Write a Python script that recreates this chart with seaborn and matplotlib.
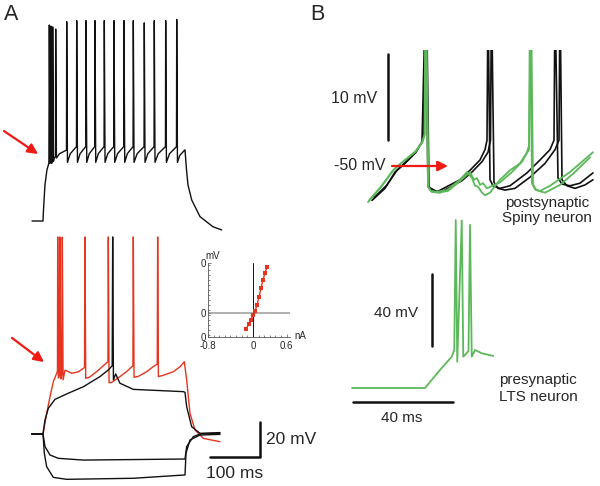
import numpy as np
import pandas as pd
import seaborn as sns
import matplotlib.pyplot as plt
from matplotlib.ticker import MultipleLocator

# ---- panel A, upper trace (ms / mV) ----
A_ON_T = [-22.4, 0, 1, 4, 8, 12]
A_ON_V = [-80, -80, -73.7, -59.4, -50.9, -46.9]
A_SPK_T = [12.9, 16.3, 19.8, 25.9, 48.4, 68.8, 87.8, 106.1, 125.1, 144.9,
           165.3, 184.3, 206.7, 227.1, 250.4, 272.9]
A_SPK_V = [32, 31.4, 30.9, 29.7, 33.9, 34.5, 34.5, 34.5, 34.5, 34.5,
           34.5, 34.5, 33.2, 34.5, 34.5, 35.2]
A_TROUGH = [-47, -47, -46, -44, -46.5, -46.5, -46.5, -46.5, -46.5, -46.5,
            -46.5, -46.5, -46.5, -46.5, -46.5, -46.5]
A_PRE = [-44, -44, -43, -39.5, -37.5, -37.5, -37.5, -37.5, -37.5, -37.5,
         -37.5, -37.5, -37.5, -37.5, -37.5, -39.4]
A_OFF_T = [289.8, 292.9, 295.9, 303.5, 320.4, 346.9, 364.7]
A_OFF_V = [-39.4, -50.9, -59.4, -68, -77.5, -83.3, -85.1]

# ---- panel A, lower traces ----
RED_T = [-23, 0, 7.5, 14.3, 21.1, 27.9, 29.5, 30, 31.5, 33.5, 34.7, 36.2, 38.3,
         39.4, 41, 45, 58.5, 72, 84.8, 85.7, 87.2, 95, 109.5, 125, 132.5, 133.3,
         134.8, 140, 157.1, 172, 183.5, 184.3, 185.8, 195, 211.6, 225, 233.2, 234,
         235.5, 245, 266, 280, 288.4, 293.2, 300, 310.2, 327.2, 361.2]
RED_V = [-80, -80, -68.2, -58.7, -50.1, -45.3, -44, 32.6, -48, -46, 32.6, -48.5, -46,
         32.4, -49, -43.5, -45.3, -44.5, -42, 32.6, -48.2, -47.5, -44.4, -40.5, -38.7, 32.6,
         -50.7, -50.5, -47.2, -44, -41, 32.6, -47.6, -47, -44.4, -41.5, -40, 32.6,
         -47.2, -46.5, -44.4, -41.5, -38.7, -49.1, -68.2, -77.7, -82.5, -84.4]
DEP_T = [-23, 0, 4.1, 10.9, 24.5, 48.3, 82.3, 116.3, 133.3, 141.2, 142.2, 143.7,
         148.3, 157.1, 184.4, 286.4, 289.8, 293.2, 303.4, 320.4, 361.2]
DEP_V = [-80, -80, -72, -65.3, -60.2, -57.1, -53, -47.2, -43.4, -41, 32.6, -49.1,
         -45.7, -51, -54.5, -55.8, -56.2, -64.4, -75.8, -79.6, -79.2]
HYP1_T = [-23, 0, 4.1, 14.3, 31.3, 82.3, 289.8, 293.2, 306.8, 320.4, 361.2]
HYP1_V = [-80, -80, -87.2, -92, -93.9, -94.9, -94.3, -87.2, -81.5, -80, -79.6]
HYP2_T = [-23, 0, 2.7, 7.5, 21.1, 48.3, 184.4, 289.8, 291.8, 300, 320.4, 361.2]
HYP2_V = [-80, -80, -91, -98.7, -104.8, -105.9, -105.3, -103.4, -91, -83.4, -80.6, -80.2]

# ---- inset I-V ----
IV_I = [-0.124, -0.071, -0.036, 0.0, 0.036, 0.071, 0.107, 0.142, 0.178, 0.213, 0.249]
IV_V = [-83.5, -79.5, -76.2, -72.2, -68.9, -64.1, -57.6, -50.3, -43.8, -38.1, -33.2]

# ---- panel B, postsynaptic spiny neuron (green: with LTS input) ----
G1_T = [0.4, 5.2, 10.4, 14.4, 19.2, 22, 23, 23.4, 24.4, 25.6, 28, 32, 37.2, 40,
        42, 43.2, 44.4, 46, 47.2, 49.2, 53.2, 57.2, 61.2, 64, 64.8, 65.2, 66, 67.2,
        69.2, 73.2, 81.2, 90.4]
G1_V = [-54.2, -52.6, -50.5, -49.5, -48.4, -47.3, -46.4, -30, -52.4, -52.9, -53,
        -52.8, -51.6, -50.7, -51.4, -52.3, -52.4, -53.1, -53.4, -53.1, -51.6, -50.5,
        -49.7, -48.4, -47.6, -30, -52, -52.7, -52.9, -52.3, -50.7, -48.4]
G2_T = [0.8, 5.6, 10.8, 14.8, 19.4, 22.2, 23.1, 23.6, 24.6, 25.8, 28.4, 32.4, 37.4,
        41.2, 42.8, 44, 45.2, 46.4, 48, 50, 53.2, 58, 62, 64.8, 65.6, 66.4, 67.6,
        71.2, 77.2, 83.2, 89.2]
G2_V = [-54, -52.4, -50.4, -49.4, -48.3, -47.2, -46.3, -30, -52.5, -53, -53.1,
        -52.9, -51.7, -50.7, -51.6, -51.4, -52.2, -52, -52.6, -52.3, -51.9, -50.7,
        -49.5, -48.1, -30, -52.1, -52.8, -53.1, -52.2, -50.7, -49]
# black: without LTS input
K1_T = [2, 7.2, 11.2, 15.2, 19.2, 22, 23.4, 24.4, 28, 37.2, 41.2, 45.2, 47.2, 48,
        48.4, 49.2, 50.4, 53.2, 57.2, 64, 69.2, 73.2, 74.8, 75.2, 76.4, 78, 81.2,
        85.2, 90.4]
K1_V = [-54, -52.6, -50.7, -49.7, -48.5, -47.2, -30, -52.4, -53, -51.6, -50.5,
        -49.3, -48.1, -47, -30, -51.6, -52.3, -52.6, -52.3, -50.8, -49.3, -48.1,
        -47, -30, -51.4, -52.1, -52.3, -52, -50.8]
K2_T = [2.8, 8, 12, 16, 19.6, 22.4, 23.8, 24.8, 29.2, 38, 42, 46, 48.4, 49.4, 49.8,
        50.8, 52.4, 55.2, 59.2, 65.2, 71.2, 75.2, 76.8, 77.2, 78, 80, 83.2, 87.2, 90.4]
K2_V = [-53.7, -52.2, -50.5, -49.4, -48.4, -47, -30, -52.6, -53.1, -51.7, -50.7,
        -49.5, -48.4, -47, -30, -51.9, -52.6, -52.8, -52.6, -51.3, -49.7, -48.1,
        -47, -30, -51.6, -52.3, -52.6, -52.2, -51.6]

# ---- panel B, presynaptic LTS neuron ----
LTS_T = [0, 29.2, 35.2, 39.9, 40.9, 41.5, 42.1, 43.9, 44.5, 46.6, 47.2, 47.9, 49.2,
         51.9, 56.5]
LTS_V = [-70, -70, -60, -52.6, -48.9, 23.3, -55.4, 23, -52.6, -49.5, 20.6, -52.6,
         -48.9, -50.7, -52.2]

BLACK = '#111111'
RED = '#e5341f'
GREEN = '#5cb85a'
ARROW = '#f01a14'

W, H = 600, 486


def spike_train(t0, v0, spk_t, spk_v, trough, pre, t1, v1):
    t, v = list(t0), list(v0)
    nxt = list(spk_t[1:]) + [t1[0]]
    for ts, pk, tr, pr, tn in zip(spk_t, spk_v, trough, pre, nxt):
        gap = tn - ts - 1.5
        t += [ts, ts + 1.5, ts + 1.5 + 0.3 * gap, tn - 0.5]
        v += [pk, tr, tr + 0.55 * (pr - tr), pr]
    return t + list(t1), v + list(v1)


def panel(fig, x0, y0, x1, y1, px0, py0, t0, v0, px_t, px_v):
    ax = fig.add_axes([x0 / W, 1 - y1 / H, (x1 - x0) / W, (y1 - y0) / H])
    ax.set_xlim(t0 + (x0 - px0) / px_t, t0 + (x1 - px0) / px_t)
    ax.set_ylim(v0 - (y1 - py0) / px_v, v0 + (py0 - y0) / px_v)
    ax.set_axis_off()
    return ax


def trace(ax, t, v, color, lw=1.0):
    sns.lineplot(x=t, y=v, ax=ax, color=color, lw=lw, sort=False, estimator=None)


def arrow(ax, tail, tip):
    ax.annotate('', xy=tip, xytext=tail, annotation_clip=False,
                arrowprops=dict(arrowstyle='-|>', color=ARROW, lw=1.6,
                                mutation_scale=15, shrinkA=0, shrinkB=0))


sns.set_theme(style='white')
plt.rcParams['font.family'] = ['Liberation Sans', 'DejaVu Sans']

fig = plt.figure(figsize=(6, 4.86), dpi=100)

# panel A top
ax = panel(fig, 0, 5, 240, 242, 43, 221, 0, -80, 0.49, 1.75)
t, v = spike_train(A_ON_T, A_ON_V, A_SPK_T, A_SPK_V, A_TROUGH, A_PRE, A_OFF_T, A_OFF_V)
trace(ax, t, v, BLACK)
arrow(ax, (-79.6, -28.6), (-10.2, -41.7))

# panel A bottom
ax = panel(fig, 0, 228, 300, 486, 43, 434, 0, -80, 0.49, 1.75)
trace(ax, RED_T, RED_V, RED)
trace(ax, DEP_T, DEP_V, BLACK)
trace(ax, HYP1_T, HYP1_V, BLACK)
trace(ax, HYP2_T, HYP2_V, BLACK)
arrow(ax, (-63.3, -25.1), (2, -38.9))
ax.plot([340.8, 442.9, 442.9], [-93, -93, -73], color=BLACK, lw=1.8, clip_on=False)
ax.text(455, -83.4, '20 mV', fontsize=12.5, ha='left', va='center')
ax.text(391.8, -102.6, '100 ms', fontsize=12.5, ha='center', va='center')

# inset I-V
ins = fig.add_axes([208 / W, 1 - 337 / H, 82 / W, 74 / H])
ins.set_facecolor('none')
ins.set_xlim(-0.8, 0.658)
ins.set_ylim(-90, -30)
ins.axhline(-70.5, color='#9a9a9a', lw=1.1, zorder=1)
ins.axvline(0, color=BLACK, lw=0.7, zorder=1)
sns.lineplot(x=IV_I, y=IV_V, ax=ins, color=RED, lw=1.0, marker='s', markersize=2.2,
             markeredgewidth=0, sort=False, estimator=None, zorder=3)
for s in ['top', 'right']:
    ins.spines[s].set_visible(False)
for s in ['left', 'bottom']:
    ins.spines[s].set_color('#555555')
    ins.spines[s].set_linewidth(0.6)
ins.set_xticks([-0.8, 0, 0.6])
ins.set_xticklabels(['-0.8', '0', '0.6'])
ins.set_yticks([-90, -70.5, -30])
ins.set_yticklabels(['0', '0', '0'])
ins.xaxis.set_minor_locator(MultipleLocator(0.1))
ins.yaxis.set_minor_locator(MultipleLocator(4))
ins.tick_params(which='both', direction='in', labelsize=7, color='#555555',
                left=True, bottom=True, width=0.5)
ins.tick_params(axis='x', which='both', pad=3)
ins.tick_params(axis='y', which='both', pad=1.5)
ins.tick_params(which='major', length=2.5)
ins.tick_params(which='minor', length=1.5)
ins.set_xlabel('')
ins.set_ylabel('')
fig.text(213 / W, 1 - 256 / H, 'mV', fontsize=7, ha='center', va='center')
fig.text(300 / W, 1 - 336 / H, 'nA', fontsize=7, ha='center', va='center')

# panel B top
ax = panel(fig, 340, 50, 600, 240, 367, 166, 0, -50, 2.5, 8.6)
trace(ax, K1_T, K1_V, BLACK, 1.2)
trace(ax, K2_T, K2_V, BLACK, 1.2)
trace(ax, G1_T, G1_V, GREEN, 1.3)
trace(ax, G2_T, G2_V, GREEN, 1.3)
ax.plot([8.4, 8.4], [-47, -37], color=BLACK, lw=1.8)
ax.text(4, -42.1, '10 mV', fontsize=11.5, ha='right', va='center')
ax.text(7.6, -50, '-50 mV', fontsize=11.5, ha='right', va='center')
arrow(ax, (10, -50), (32.4, -50))
ax.text(72, -54.3, 'postsynaptic', fontsize=11, ha='center', va='center')
ax.text(72, -56.1, 'Spiny neuron', fontsize=11, ha='center', va='center')

# panel B bottom
ax = panel(fig, 340, 215, 600, 440, 352, 388, 0, -70, 2.5, 1.8)
trace(ax, LTS_T, LTS_V, GREEN, 1.3)
ax.plot([32, 32], [-46.7, -6.7], color=BLACK, lw=1.8)
ax.plot([0.4, 40.4], [-77.8, -77.8], color=BLACK, lw=1.8)
ax.text(26.4, -28.3, '40 mV', fontsize=11, ha='right', va='center')
ax.text(20, -86.7, '40 ms', fontsize=11, ha='center', va='center')
ax.text(74.4, -65.6, 'presynaptic', fontsize=11, ha='center', va='center')
ax.text(74.4, -75, 'LTS neuron', fontsize=11, ha='center', va='center')

fig.text(4 / W, 1 - 15 / H, 'A', fontsize=15.5, ha='left', va='center')
fig.text(310 / W, 1 - 15 / H, 'B', fontsize=15.5, ha='left', va='center')

fig.savefig('out.png', dpi=100)
